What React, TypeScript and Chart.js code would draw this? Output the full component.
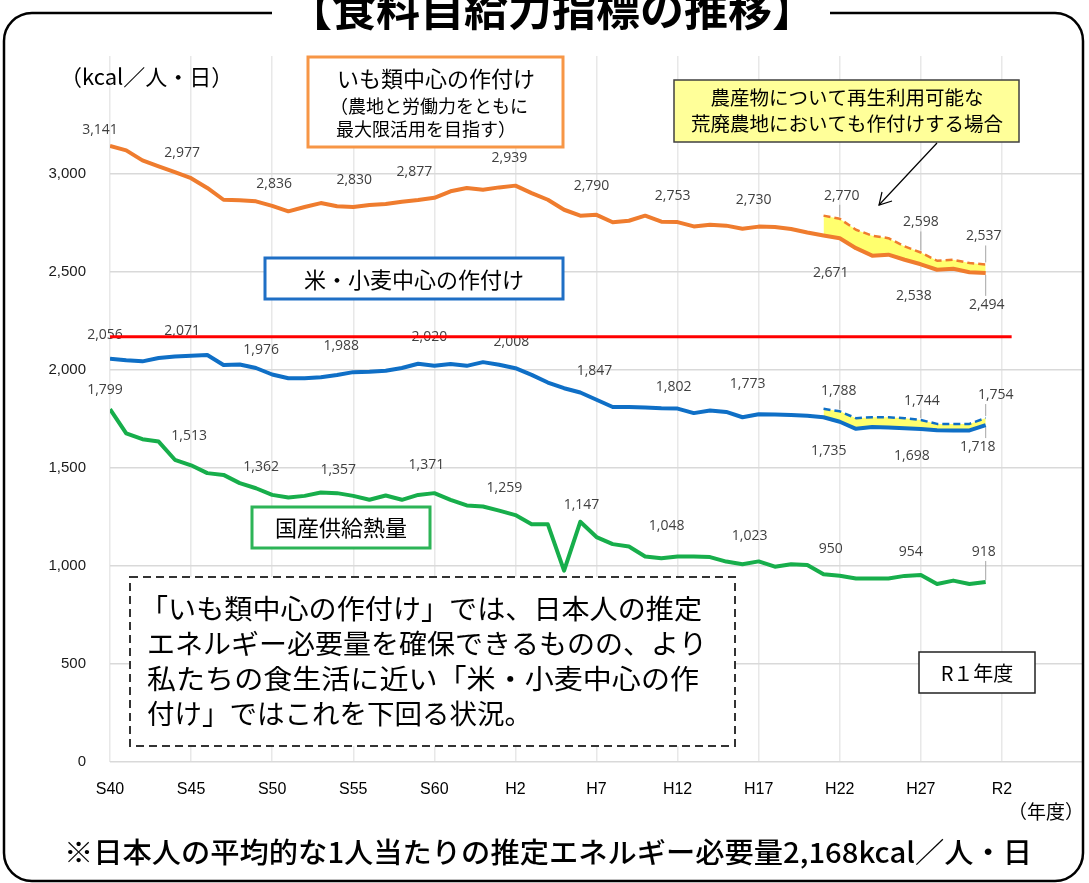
import React, { useEffect, useRef } from "react";
import { Chart, registerables } from "chart.js";

Chart.register(...registerables);

// ---------------- data ----------------
const years = [
  1965, 1966, 1967, 1968, 1969, 1970, 1971, 1972, 1973, 1974,
  1975, 1976, 1977, 1978, 1979, 1980, 1981, 1982, 1983, 1984,
  1985, 1986, 1987, 1988, 1989, 1990, 1991, 1992, 1993, 1994,
  1995, 1996, 1997, 1998, 1999, 2000, 2001, 2002, 2003, 2004,
  2005, 2006, 2007, 2008, 2009, 2010, 2011, 2012, 2013, 2014,
  2015, 2016, 2017, 2018, 2019,
];

// いも類中心の作付け
const imoValues = [
  3141, 3119, 3068, 3037, 3008, 2977, 2927, 2867, 2865, 2859,
  2836, 2808, 2830, 2850, 2834, 2830, 2840, 2845, 2857, 2866,
  2877, 2910, 2927, 2918, 2930, 2939, 2901, 2867, 2816, 2786,
  2790, 2752, 2760, 2786, 2755, 2753, 2731, 2740, 2735, 2719,
  2730, 2728, 2718, 2700, 2685, 2671, 2620, 2582, 2587, 2561,
  2538, 2510, 2515, 2497, 2494,
];

// 米・小麦中心の作付け
const komeValues = [
  2056, 2048, 2043, 2060, 2068, 2071, 2075, 2024, 2027, 2009,
  1976, 1957, 1957, 1962, 1973, 1988, 1990, 1995, 2009, 2031,
  2020, 2029, 2020, 2039, 2026, 2008, 1974, 1935, 1906, 1884,
  1847, 1810, 1810, 1808, 1804, 1802, 1779, 1792, 1785, 1758,
  1773, 1772, 1770, 1765, 1758, 1735, 1699, 1708, 1706, 1702,
  1698, 1692, 1690, 1691, 1718,
];

// 国産供給熱量
const domesticValues = [
  1799, 1676, 1646, 1634, 1541, 1513, 1473, 1464, 1422, 1396,
  1362, 1349, 1357, 1374, 1371, 1357, 1337, 1359, 1337, 1362,
  1371, 1337, 1308, 1303, 1282, 1259, 1212, 1212, 976, 1225,
  1147, 1111, 1099, 1048, 1039, 1048, 1048, 1045, 1022, 1008,
  1023, 996, 1008, 1005, 957, 950, 936, 936, 936, 949,
  954, 908, 925, 908, 918,
];

// 再生利用可能な荒廃農地においても作付けする場合
const extendedYears = [2009, 2010, 2011, 2012, 2013, 2014, 2015, 2016, 2017, 2018, 2019];
const imoExtendedValues = [2786, 2770, 2714, 2684, 2671, 2629, 2598, 2556, 2561, 2544, 2537];
const komeExtendedValues = [1801, 1788, 1753, 1758, 1758, 1753, 1744, 1724, 1724, 1724, 1754];

// 推定エネルギー必要量
const requirementYears = [1965, 2020.6];
const requirementValues = [2168, 2168];

// axis
const tickYears = [1965, 1970, 1975, 1980, 1985, 1990, 1995, 2000, 2005, 2010, 2015, 2020];
const tickLabels = ["S40", "S45", "S50", "S55", "S60", "H2", "H7", "H12", "H17", "H22", "H27", "R2"];
const yTickValues = [0, 500, 1000, 1500, 2000, 2500, 3000];
const labeledYears = [1965, 1970, 1975, 1980, 1985, 1990, 1995, 2000, 2005, 2010, 2015, 2019];
const extLabeledYears = [2010, 2015, 2019];

// ---------------- styles ----------------
const ORANGE = "#EF7C2E";
const BLUE = "#0F6FC6";
const GREEN = "#17AE4B";
const RED = "#FF0000";
const FILL_YELLOW = "#FFFF6E";
const JP = "'Noto Sans CJK JP', 'Noto Sans', sans-serif";
const NUM = "'Open Sans', 'Noto Sans', sans-serif";

// label offsets (dx, dy from the point to the label centre) + leader flag
type Off = [number, number, boolean?];
const imoLabelOffsets: Off[] = [[-10, -16], [-9, -25], [2, -22], [1, -27], [-20, -26], [-6, -28], [-5, -29], [-5, -26], [-5, -27], [-9, 35], [-7, 32], [1, 32, true]];
const imoExtLabelOffsets: Off[] = [[2, -23, true], [0, -30, true], [-2, -28, true]];
const komeLabelOffsets: Off[] = [[-5, -24], [-9, -25], [-11, -24], [-12, -26], [-5, -29], [-4, -26], [-2, -29], [-4, -22], [-11, -30], [-11, 29], [-9, 27], [-8, 22, true]];
const komeExtLabelOffsets: Off[] = [[-1, -20, true], [1, -19, true], [10, -23, true]];
const domesticLabelOffsets: Off[] = [[-5, -19], [-2, -29], [-11, -28], [-15, -26], [-8, -28], [-11, -27], [-15, -32], [-11, -30], [-9, -25], [-9, -27], [-10, -23], [-2, -30, true]];

const pts = (xs: number[], ys: number[]) => xs.map((x, i) => ({ x, y: ys[i] }));

const labelGroups = [
  { xs: years, ys: imoValues, at: labeledYears, offs: imoLabelOffsets },
  { xs: extendedYears, ys: imoExtendedValues, at: extLabeledYears, offs: imoExtLabelOffsets },
  { xs: years, ys: komeValues, at: labeledYears, offs: komeLabelOffsets },
  { xs: extendedYears, ys: komeExtendedValues, at: extLabeledYears, offs: komeExtLabelOffsets },
  { xs: years, ys: domesticValues, at: labeledYears, offs: domesticLabelOffsets },
];

const valueLabelPlugin = {
  id: "valueLabels",
  beforeDatasetsDraw(chart: any) {
    const { ctx, scales } = chart;
    ctx.save();
    ctx.font = `14px ${NUM}`;
    ctx.fillStyle = "#404040";
    ctx.textAlign = "center";
    ctx.textBaseline = "middle";
    labelGroups.forEach((g) => {
      g.at.forEach((yr, k) => {
        const i = g.xs.indexOf(yr);
        const v = g.ys[i];
        const px = scales.x.getPixelForValue(yr);
        const py = scales.y.getPixelForValue(v);
        const [dx, dy, leader] = g.offs[k];
        const lx = px + dx;
        const ly = py + dy;
        if (leader) {
          ctx.strokeStyle = "#a6a6a6";
          ctx.lineWidth = 1;
          ctx.beginPath();
          if (dy < 0) {
            ctx.moveTo(Math.abs(dx) > 6 ? lx - 10 : px, ly + 9);
            ctx.lineTo(px, py - 2);
          } else {
            ctx.moveTo(Math.abs(dx) > 6 ? lx + 8 : px, ly - 9);
            ctx.lineTo(px, py + 2);
          }
          ctx.stroke();
        }
        ctx.fillText(v.toLocaleString("en-US"), lx, ly);
      });
    });
    ctx.restore();
  },
};

function box(ctx: CanvasRenderingContext2D, x: number, y: number, w: number, h: number, stroke: string, lw: number, fill = "#ffffff", dash: number[] = []) {
  ctx.save();
  ctx.fillStyle = fill;
  ctx.fillRect(x, y, w, h);
  ctx.setLineDash(dash);
  ctx.strokeStyle = stroke;
  ctx.lineWidth = lw;
  ctx.strokeRect(x, y, w, h);
  ctx.restore();
}

function txt(ctx: CanvasRenderingContext2D, s: string, x: number, y: number, font: string, align: CanvasTextAlign = "center", color = "#000") {
  ctx.font = font;
  ctx.fillStyle = color;
  ctx.textAlign = align;
  ctx.textBaseline = "middle";
  ctx.fillText(s, x, y);
}

// draws text stretched/compressed horizontally to span exactly `width` from left edge x
function fitTxt(ctx: CanvasRenderingContext2D, s: string, x: number, y: number, width: number, font: string, color = "#000") {
  ctx.save();
  ctx.font = font;
  ctx.fillStyle = color;
  ctx.textAlign = "left";
  ctx.textBaseline = "middle";
  const w = ctx.measureText(s).width;
  ctx.translate(x, y);
  ctx.scale(width / w, 1);
  ctx.fillText(s, 0, 0);
  ctx.restore();
}

const decorPlugin = {
  id: "decor",
  afterDraw(chart: any) {
    const ctx: CanvasRenderingContext2D = chart.ctx;
    ctx.save();

    // outer rounded frame with gap for the title
    const L = 4, T = 13, Rt = 1083, B = 881, R = 28;
    ctx.beginPath();
    ctx.moveTo(272, T);
    ctx.lineTo(L + R, T);
    ctx.arcTo(L, T, L, T + R, R);
    ctx.lineTo(L, B - R);
    ctx.arcTo(L, B, L + R, B, R);
    ctx.lineTo(Rt - R, B);
    ctx.arcTo(Rt, B, Rt, B - R, R);
    ctx.lineTo(Rt, T + R);
    ctx.arcTo(Rt, T, Rt - R, T, R);
    ctx.lineTo(830, T);
    ctx.strokeStyle = "#000";
    ctx.lineWidth = 2.5;
    ctx.stroke();

    // title
    txt(ctx, "【食料自給力指標の推移】", 552, 9, `bold 44px ${JP}`);

    // unit labels
    txt(ctx, "（kcal／人・日）", 60, 77, `22px ${JP}`, "left");
    txt(ctx, "（年度）", 1008, 812, `19px ${JP}`, "left");

    // orange box
    box(ctx, 308, 57, 255, 90, "#F79646", 3);
    txt(ctx, "いも類中心の作付け", 436, 79, `22px ${JP}`);
    txt(ctx, "（農地と労働力をともに", 330, 106, `18px ${JP}`, "left");
    txt(ctx, "最大限活用を目指す）", 336, 129, `18px ${JP}`, "left");

    // yellow annotation box
    box(ctx, 674, 80, 345, 62, "#404040", 1.5, "#FFFF99");
    txt(ctx, "農産物について再生利用可能な", 847, 98, `19.5px ${JP}`);
    txt(ctx, "荒廃農地においても作付けする場合", 847, 124, `19.5px ${JP}`);

    // arrow
    ctx.strokeStyle = "#000";
    ctx.lineWidth = 1.2;
    ctx.beginPath();
    ctx.moveTo(937, 143);
    ctx.lineTo(879, 205);
    ctx.stroke();
    ctx.beginPath();
    ctx.moveTo(882, 192);
    ctx.lineTo(879, 205);
    ctx.lineTo(892, 201);
    ctx.stroke();

    // blue box
    box(ctx, 265, 258, 298, 41, "#1F6FC5", 3);
    txt(ctx, "米・小麦中心の作付け", 414, 280, `22px ${JP}`);

    // green box
    box(ctx, 252, 507, 178, 41, "#2DB457", 3);
    txt(ctx, "国産供給熱量", 341, 528, `22px ${JP}`);

    // dashed explanation box
    box(ctx, 130, 577, 605, 169, "#333", 2, "#ffffff", [8, 5]);
    const f = `27.5px ${JP}`;
    fitTxt(ctx, "「いも類中心の作付け」では、日本人の推定", 140, 609, 562, f);
    fitTxt(ctx, "エネルギー必要量を確保できるものの、より", 147, 644, 560, f);
    fitTxt(ctx, "私たちの食生活に近い「米・小麦中心の作", 147, 679, 552, f);
    txt(ctx, "付け」ではこれを下回る状況。", 147, 714, f, "left");

    // R1 box
    box(ctx, 919, 652, 116, 41, "#222", 1.5);
    txt(ctx, "R１年度", 977, 673, `20px ${JP}`);

    // footnote
    fitTxt(ctx, "※日本人の平均的な1人当たりの推定エネルギー必要量2,168kcal／人・日", 64, 852, 968, `500 28px ${JP}`);

    ctx.restore();
  },
};

export default function App() {
  const ref = useRef<HTMLCanvasElement>(null);

  useEffect(() => {
    document.body.style.margin = "0";
    const canvas = ref.current!;
    const chart = new Chart(canvas, {
      type: "line",
      data: {
        datasets: [
          {
            label: "いも類中心の作付け",
            data: pts(years, imoValues),
            borderColor: ORANGE,
            borderWidth: 4,
            fill: false,
          },
          {
            label: "米・小麦中心の作付け",
            data: pts(years, komeValues),
            borderColor: BLUE,
            borderWidth: 4,
            fill: false,
          },
          {
            label: "国産供給熱量",
            data: pts(years, domesticValues),
            borderColor: GREEN,
            borderWidth: 4,
            fill: false,
          },
          {
            label: "いも類中心（荒廃農地含む）",
            data: pts(extendedYears, imoExtendedValues),
            borderColor: ORANGE,
            borderWidth: 2.5,
            borderDash: [7, 4],
            backgroundColor: FILL_YELLOW,
            fill: { target: 0, above: FILL_YELLOW, below: FILL_YELLOW },
          },
          {
            label: "米・小麦中心（荒廃農地含む）",
            data: pts(extendedYears, komeExtendedValues),
            borderColor: BLUE,
            borderWidth: 2.5,
            borderDash: [7, 4],
            backgroundColor: FILL_YELLOW,
            fill: { target: 1, above: FILL_YELLOW, below: FILL_YELLOW },
          },
          {
            label: "推定エネルギー必要量",
            data: pts(requirementYears, requirementValues),
            borderColor: RED,
            borderWidth: 3,
            fill: false,
          },
        ],
      },
      options: {
        animation: false,
        responsive: false,
        devicePixelRatio: 1,
        parsing: false as any,
        layout: { padding: { top: 56, right: 6, left: 0, bottom: 0 } },
        elements: {
          point: { radius: 0, hoverRadius: 0 },
          line: { tension: 0, borderJoinStyle: "round", borderCapStyle: "butt" },
        },
        plugins: {
          legend: { display: false },
          tooltip: { enabled: false },
        },
        scales: {
          x: {
            type: "linear",
            min: 1965,
            max: 2025,
            afterBuildTicks: (scale: any) => {
              scale.ticks = [...tickYears, 2025].map((v) => ({ value: v }));
            },
            afterFit: (scale: any) => {
              scale.height = 121;
              scale.paddingLeft = 0;
              scale.paddingRight = 0;
            },
            ticks: {
              autoSkip: false,
              maxRotation: 0,
              padding: 18,
              color: "#000",
              font: { family: "'Liberation Sans Narrow', 'Arial Narrow', 'Liberation Sans', sans-serif", size: 16 },
              callback: (v: any) => {
                const i = tickYears.indexOf(Number(v));
                return i >= 0 ? tickLabels[i] : "";
              },
            },
            grid: {
              drawTicks: false,
              lineWidth: 1.5,
              color: (c: any) => (c.tick && c.tick.value > 2020 ? "rgba(0,0,0,0)" : "#e8e8e8"),
            },
            border: { display: false },
          },
          y: {
            min: 0,
            max: 3600,
            afterBuildTicks: (scale: any) => {
              scale.ticks = yTickValues.map((v) => ({ value: v }));
            },
            afterFit: (scale: any) => {
              scale.width = 110;
              scale.paddingTop = 0;
              scale.paddingBottom = 0;
            },
            ticks: {
              padding: 24,
              color: "#1a1a1a",
              font: { family: "'Liberation Sans', Arial, sans-serif", size: 15 },
              callback: (v: any) => Number(v).toLocaleString("en-US"),
            },
            grid: {
              drawTicks: false,
              lineWidth: 1.5,
              color: "#d9d9d9",
            },
            border: { display: false },
          },
        },
      },
      plugins: [valueLabelPlugin, decorPlugin],
    } as any);
    return () => chart.destroy();
  }, []);

  return (
    <canvas
      ref={ref}
      width={1089}
      height={883}
      style={{ display: "block", width: 1089, height: 883 }}
    />
  );
}
